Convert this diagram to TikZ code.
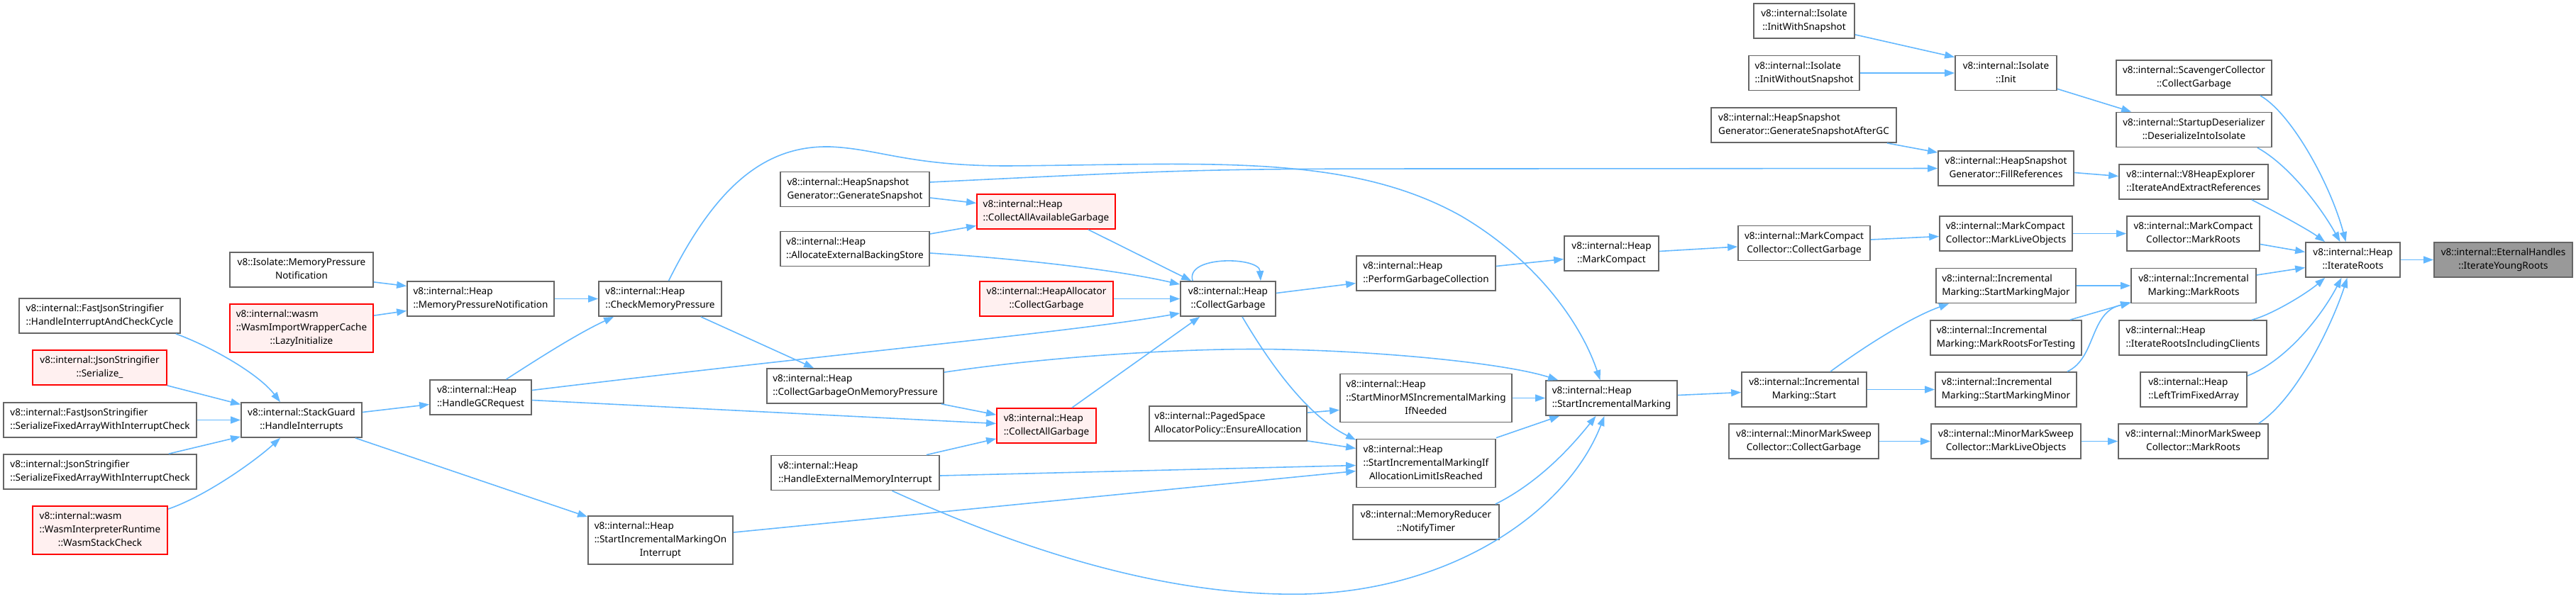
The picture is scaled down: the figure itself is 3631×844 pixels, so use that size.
\documentclass[tikz,border=0pt]{standalone}
\usepackage{fontspec}
\setmainfont{Noto Sans}
\usepackage{xcolor}
\definecolor{callblue}{HTML}{63B8FF}
\definecolor{boxgrey}{HTML}{666666}
\definecolor{truncred}{HTML}{FF0000}
\definecolor{truncfill}{HTML}{FFF0F0}
\definecolor{curfill}{HTML}{999999}
\usetikzlibrary{calc,arrows.meta}

% first lines left, last line centred (as dot does it)
\newcommand{\fntwo}[2]{\begin{tabular}{@{}l@{}}#1\\\multicolumn{1}{@{}c@{}}{#2}\end{tabular}}
\newcommand{\fnthree}[3]{\begin{tabular}{@{}l@{}}#1\\#2\\\multicolumn{1}{@{}c@{}}{#3}\end{tabular}}

\begin{document}
\begin{tikzpicture}[x=0.1mm, y=-0.1mm,
    fn/.style={draw=boxgrey, line width=0.5pt, fill=white, rectangle, inner sep=0pt,
        font=\fontsize{3.85}{5.4}\selectfont, text=black},
    fnred/.style={fn, draw=truncred, fill=truncfill},
    fncur/.style={fn, draw=boxgrey, fill=curfill},
    bw/.style={minimum width=#1*0.1mm},
    two/.style={minimum height=4.9mm},
    three/.style={minimum height=6.8mm},
    call/.style={draw=callblue, line width=0.45pt, -{Triangle[length=1.4mm, width=1mm]}}]

    \fill[white] (0,0) rectangle (3631,844);
    \useasboundingbox (0,0) rectangle (3631,844);

    % Left column: callers of the stack guard
    \node[fn, bw=227, two] (fjHIACC) at (140.5,445.5) {\fntwo{v8::internal::FastJsonStringifier}{::HandleInterruptAndCheckCycle}};
    \node[fnred, bw=189, two] (jsSer) at (140.5,518.5) {\fntwo{v8::internal::JsonStringifier}{::Serialize\_}};
    \node[fn, bw=272, two] (fjSFA) at (141,592.5) {\fntwo{v8::internal::FastJsonStringifier}{::SerializeFixedArrayWithInterruptCheck}};
    \node[fn, bw=272, two] (jsSFA) at (141,665.5) {\fntwo{v8::internal::JsonStringifier}{::SerializeFixedArrayWithInterruptCheck}};
    \node[fnred, bw=190, three] (wasmWSC) at (141,748) {\fnthree{v8::internal::wasm}{::WasmInterpreterRuntime}{::WasmStackCheck}};

    \node[fn, bw=202, two] (isoMPN) at (425,380.5) {\fntwo{v8::Isolate::MemoryPressure}{Notification}};
    \node[fnred, bw=202, three] (wasmIWC) at (425,463) {\fnthree{v8::internal::wasm}{::WasmImportWrapperCache}{::LazyInitialize}};
    \node[fn, bw=170, two] (stackGuard) at (425,592.5) {\fntwo{v8::internal::StackGuard}{::HandleInterrupts}};

    \node[fn, bw=207, two] (heapMPN) at (677.5,421.5) {\fntwo{v8::internal::Heap}{::MemoryPressureNotification}};
    \node[fn, bw=143, two] (handleGC) at (677.5,560.5) {\fntwo{v8::internal::Heap}{::HandleGCRequest}};

    \node[fn, bw=173, two] (checkMP) at (930.5,421.5) {\fntwo{v8::internal::Heap}{::CheckMemoryPressure}};
    \node[fn, bw=204, three] (simOI) at (931,762) {\fnthree{v8::internal::Heap}{::StartIncrementalMarkingOn}{Interrupt}};

    % Garbage collection entry points
    \node[fn, bw=210, two] (hsgGS) at (1205,267) {\fntwo{v8::internal::HeapSnapshot}{Generator::GenerateSnapshot}};
    \node[fn, bw=210, two] (allocEBS) at (1205,351) {\fntwo{v8::internal::Heap}{::AllocateExternalBackingStore}};
    \node[fn, bw=249, two] (cgOMP) at (1205.5,544.5) {\fntwo{v8::internal::Heap}{::CollectGarbageOnMemoryPressure}};
    \node[fn, bw=237, two] (hemi) at (1205.5,667) {\fntwo{v8::internal::Heap}{::HandleExternalMemoryInterrupt}};

    \node[fnred, bw=195, two] (caag) at (1474.5,298.5) {\fntwo{v8::internal::Heap}{::CollectAllAvailableGarbage}};
    \node[fnred, bw=188, two] (haCG) at (1475,421.5) {\fntwo{v8::internal::HeapAllocator}{::CollectGarbage}};
    \node[fnred, bw=140, two] (collectAllGarbage) at (1475,600.5) {\fntwo{v8::internal::Heap}{::CollectAllGarbage}};

    \node[fn, bw=134, two] (collectGarbage) at (1731,421.5) {\fntwo{v8::internal::Heap}{::CollectGarbage}};
    \node[fn, bw=222, two] (pagedSpace) at (1731,597.5) {\fntwo{v8::internal::PagedSpace}{AllocatorPolicy::EnsureAllocation}};

    \node[fn, bw=196, two] (perfGC) at (2010,385.5) {\fntwo{v8::internal::Heap}{::PerformGarbageCollection}};
    \node[fn, bw=242, three] (smMSIM) at (2010,561.5) {\fnthree{v8::internal::Heap}{::StartMinorMSIncrementalMarking}{IfNeeded}};
    \node[fn, bw=196, three] (simIALIR) at (2010,653.5) {\fnthree{v8::internal::Heap}{::StartIncrementalMarkingIf}{AllocationLimitIsReached}};
    \node[fn, bw=206, two] (notifyTimer) at (2010,736.5) {\fntwo{v8::internal::MemoryReducer}{::NotifyTimer}};

    \node[fn, bw=133, two] (markCompact) at (2271.5,357.5) {\fntwo{v8::internal::Heap}{::MarkCompact}};
    \node[fn, bw=185, two] (startIM) at (2271.5,561.5) {\fntwo{v8::internal::Heap}{::StartIncrementalMarking}};

    % Collectors and marking
    \node[fn, bw=142, two] (initWS) at (2543,29.5) {\fntwo{v8::internal::Isolate}{::InitWithSnapshot}};
    \node[fn, bw=156, two] (initWOS) at (2543,103) {\fntwo{v8::internal::Isolate}{::InitWithoutSnapshot}};
    \node[fn, bw=261, two] (hsgGSAGC) at (2542.5,176.5) {\fntwo{v8::internal::HeapSnapshot}{Generator::GenerateSnapshotAfterGC}};
    \node[fn, bw=186, two] (mccCG) at (2543,343) {\fntwo{v8::internal::MarkCompact}{Collector::CollectGarbage}};
    \node[fn, bw=176, two] (imStart) at (2543,549.5) {\fntwo{v8::internal::Incremental}{Marking::Start}};
    \node[fn, bw=211, two] (mmscCG) at (2542.5,622.5) {\fntwo{v8::internal::MinorMarkSweep}{Collector::CollectGarbage}};

    \node[fn, bw=143, two] (isoInit) at (2827.5,103) {\fntwo{v8::internal::Isolate}{::Init}};
    \node[fn, bw=191, two] (hsgFR) at (2827.5,237.5) {\fntwo{v8::internal::HeapSnapshot}{Generator::FillReferences}};
    \node[fn, bw=187, two] (mccMLO) at (2827.5,329.5) {\fntwo{v8::internal::MarkCompact}{Collector::MarkLiveObjects}};
    \node[fn, bw=197, two] (imSMMaj) at (2827.5,403) {\fntwo{v8::internal::Incremental}{Marking::StartMarkingMajor}};
    \node[fn, bw=213, two] (imMRFT) at (2827.5,476.5) {\fntwo{v8::internal::Incremental}{Marking::MarkRootsForTesting}};
    \node[fn, bw=199, two] (imSMMin) at (2827.5,549.5) {\fntwo{v8::internal::Incremental}{Marking::StartMarkingMinor}};
    \node[fn, bw=211, two] (mmscMLO) at (2827.5,622.5) {\fntwo{v8::internal::MinorMarkSweep}{Collector::MarkLiveObjects}};

    % Direct callers of IterateRoots
    \node[fn, bw=219, two] (scav) at (3092.5,109.5) {\fntwo{v8::internal::ScavengerCollector}{::CollectGarbage}};
    \node[fn, bw=219, two] (startupDes) at (3092.5,183) {\fntwo{v8::internal::StartupDeserializer}{::DeserializeIntoIsolate}};
    \node[fn, bw=210, two] (v8HE) at (3092,256.5) {\fntwo{v8::internal::V8HeapExplorer}{::IterateAndExtractReferences}};
    \node[fn, bw=187, two] (mccMR) at (3091.5,329.5) {\fntwo{v8::internal::MarkCompact}{Collector::MarkRoots}};
    \node[fn, bw=176, two] (imMR) at (3092,403) {\fntwo{v8::internal::Incremental}{Marking::MarkRoots}};
    \node[fn, bw=208, two] (irc) at (3091,476.5) {\fntwo{v8::internal::Heap}{::IterateRootsIncludingClients}};
    \node[fn, bw=150, two] (ltfa) at (3092,549.5) {\fntwo{v8::internal::Heap}{::LeftTrimFixedArray}};
    \node[fn, bw=211, two] (mmscMR) at (3091.5,622.5) {\fntwo{v8::internal::MinorMarkSweep}{Collector::MarkRoots}};

    \node[fn, bw=133, two] (iterRoots) at (3316.5,366.5) {\fntwo{v8::internal::Heap}{::IterateRoots}};
    \node[fncur, bw=195, two] (eternal) at (3528.5,366.5) {\fntwo{v8::internal::EternalHandles}{::IterateYoungRoots}};

    % Calls into the stack guard
    \draw[call] ($(fjHIACC.south east)+(-7,0)$) .. controls (300,490) and (365,528) .. ($(stackGuard.north)+(-30,0)$);
    \draw[call] (jsSer.south east) -- ($(stackGuard.west)+(0,-22)$);
    \draw[call] (fjSFA.east) -- (stackGuard.west);
    \draw[call] ($(jsSFA.north east)+(-40,0)$) -- ($(stackGuard.south west)+(0,-2)$);
    \draw[call] ($(wasmWSC.north east)+(0,5)$) .. controls (290,700) and (360,650) .. ($(stackGuard.south)+(-30,0)$);
    \draw[call] ($(stackGuard.east)+(0,-11)$) -- ($(handleGC.west)+(0,10)$);
    \draw[call] ($(stackGuard.south east)+(-10,0)$) -- ($(simOI.north west)+(0,2)$);

    % Memory pressure
    \draw[call] ($(isoMPN.south east)+(0,-8)$) -- ($(heapMPN.west)+(0,-18)$);
    \draw[call] ($(wasmIWC.north east)+(0,17)$) -- ($(heapMPN.west)+(0,17)$);
    \draw[call] (heapMPN.east) -- (checkMP.west);
    \draw[call] ($(handleGC.north)+(36,0)$) .. controls (760,505) and (815,470) .. ($(checkMP.south west)+(22,0)$);
    \draw[call] ($(checkMP.south east)+(-30,0)$) -- ($(cgOMP.north west)+(67,0)$);
    \draw[call] ($(checkMP.north)+(12,0)$) .. controls (1010,260) and (1080,205) .. (1170,207)
        .. controls (1240,210) and (1280,234) .. (1420,234)
        .. controls (1700,232) and (1900,215) .. (2060,305)
        .. controls (2170,370) and (2230,460) .. ($(startIM.north)+(-16,0)$);
    \draw[call] ($(handleGC.east)+(0,-10)$) .. controls (1200,496) and (1500,470) .. ($(collectGarbage.south west)+(0,-5)$);
    \draw[call] ($(handleGC.east)+(0,4)$) -- ($(collectAllGarbage.west)+(0,-3)$);

    % Heap::CollectGarbage and friends
    \draw[call] ($(hsgGS.east)+(0,12)$) -- ($(caag.west)+(0,-12)$);
    \draw[call] ($(allocEBS.east)+(0,-21)$) -- ($(caag.west)+(0,20)$);
    \draw[call] ($(allocEBS.east)+(0,6)$) .. controls (1450,366) and (1580,382) .. ($(collectGarbage.north west)+(0,5)$);
    \draw[call] ($(caag.south east)+(-39,0)$) -- ($(collectGarbage.north west)+(16,0)$);
    \draw[call] (haCG.east) -- (collectGarbage.west);
    \draw[call] ($(collectGarbage.north west)+(18,0)$) .. controls (1670,360) and (1775,362) .. ($(collectGarbage.north east)+(-22,0)$);
    \draw[call] ($(collectAllGarbage.north)+(36,0)$) -- ($(collectGarbage.south west)+(28,0)$);
    \draw[call] ($(cgOMP.south east)+(-4,0)$) -- ($(collectAllGarbage.north west)+(0,10)$);
    \draw[call] ($(hemi.north east)+(-19,0)$) -- ($(collectAllGarbage.south west)+(0,-7)$);
    \draw[call] ($(collectGarbage.east)+(0,-8)$) -- ($(perfGC.west)+(0,14)$);
    \draw[call] ($(collectGarbage.south)+(20,0)$) .. controls (1800,530) and (1850,590) .. ($(simIALIR.north west)+(0,2)$);

    % Incremental marking start
    \draw[call] ($(cgOMP.north east)+(0,6)$) .. controls (1500,500) and (1700,490) .. (1810,493)
        .. controls (1950,496) and (2120,512) .. ($(startIM.north west)+(18,0)$);
    \draw[call] ($(hemi.east)+(0,4)$) -- ($(simIALIR.west)+(0,3)$);
    \draw[call] ($(hemi.south)+(52,0)$) .. controls (1450,780) and (1650,842) .. (1840,838)
        .. controls (2050,832) and (2210,720) .. ($(startIM.south)+(-10,0)$);
    \draw[call] ($(simOI.east)+(0,-11)$) -- ($(simIALIR.west)+(0,11)$);
    \draw[call] ($(pagedSpace.north east)+(0,10)$) -- ($(smMSIM.south west)+(0,-18)$);
    \draw[call] ($(pagedSpace.south east)+(0,-1)$) -- ($(simIALIR.west)+(0,-21)$);
    \draw[call] (smMSIM.east) -- (startIM.west);
    \draw[call] ($(simIALIR.north east)+(0,-1)$) -- ($(startIM.south west)+(20,0)$);
    \draw[call] ($(notifyTimer.north east)+(-6,0)$) .. controls (2170,680) and (2215,630) .. ($(startIM.south)+(-22,0)$);
    \draw[call] ($(startIM.east)+(0,-4)$) -- ($(imStart.west)+(0,4)$);

    % Full GC path
    \draw[call] ($(perfGC.east)+(0,-10)$) -- ($(markCompact.west)+(0,8)$);
    \draw[call] ($(markCompact.east)+(0,-3)$) -- ($(mccCG.west)+(0,5)$);
    \draw[call] ($(mccCG.east)+(0,-5)$) -- ($(mccMLO.west)+(0,4)$);
    \draw[call] (mccMLO.east) -- (mccMR.west);

    % Snapshots and isolate setup
    \draw[call] ($(hsgGS.east)+(0,-10)$) .. controls (1700,238) .. (2100,238) -- (hsgFR.west);
    \draw[call] ($(initWS.south east)+(0,-6)$) -- ($(isoInit.north west)+(0,3)$);
    \draw[call] (initWOS.east) -- (isoInit.west);
    \draw[call] ($(isoInit.south east)+(0,-3)$) -- ($(startupDes.north west)+(22,0)$);
    \draw[call] ($(hsgGSAGC.south east)+(-14,0)$) -- ($(hsgFR.north west)+(0,3)$);
    \draw[call] ($(hsgFR.east)+(0,6)$) -- ($(v8HE.west)+(0,-8)$);

    % Incremental marking roots
    \draw[call] ($(imStart.north)+(37,0)$) .. controls (2640,480) and (2700,445) .. ($(imSMMaj.south west)+(19,0)$);
    \draw[call] (imStart.east) -- (imSMMin.west);
    \draw[call] (imSMMaj.east) -- (imMR.west);
    \draw[call] ($(imMRFT.north east)+(-17,0)$) -- ($(imMR.south west)+(0,-2)$);
    \draw[call] ($(imSMMin.north east)+(-14,0)$) .. controls (2955,505) and (2945,440) .. ($(imMR.south west)+(0,-1)$);
    \draw[call] (mmscCG.east) -- (mmscMLO.west);
    \draw[call] (mmscMLO.east) -- (mmscMR.west);

    % Into IterateRoots
    \draw[call] ($(scav.south east)+(-17,0)$) .. controls (3230,160) and (3285,260) .. ($(iterRoots.north)+(-10,0)$);
    \draw[call] ($(startupDes.south east)+(-21,0)$) .. controls (3225,232) and (3270,290) .. ($(iterRoots.north)+(-18,0)$);
    \draw[call] ($(v8HE.south east)+(-24,0)$) .. controls (3210,300) and (3255,325) .. ($(iterRoots.north west)+(28,0)$);
    \draw[call] ($(mccMR.east)+(0,15)$) -- ($(iterRoots.west)+(0,-11)$);
    \draw[call] ($(imMR.east)+(0,-15)$) -- ($(iterRoots.west)+(0,11)$);
    \draw[call] ($(irc.north east)+(-22,0)$) .. controls (3200,445) and (3250,415) .. ($(iterRoots.south west)+(28,0)$);
    \draw[call] ($(ltfa.north east)+(0,6)$) .. controls (3220,510) and (3270,450) .. ($(iterRoots.south)+(-16,0)$);
    \draw[call] ($(mmscMR.north east)+(-14,0)$) .. controls (3240,560) and (3290,450) .. ($(iterRoots.south)+(-8,0)$);
    \draw[call] (iterRoots.east) -- (eternal.west);
\end{tikzpicture}
\end{document}
